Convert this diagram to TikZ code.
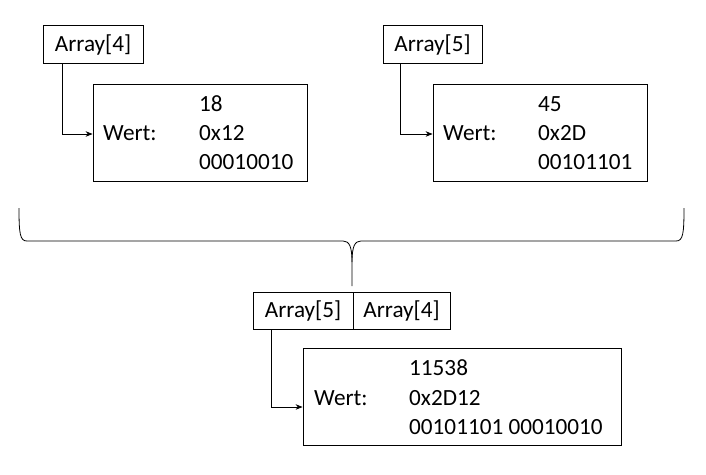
\documentclass[tikz,border=0pt]{standalone}
\usepackage{fontspec}
\setmainfont{Carlito}
\usetikzlibrary{arrows.meta,calc}
\begin{document}
\begin{tikzpicture}[x=1pt,y=-1pt,
  every node/.style={font=\fontsize{23.2}{28}\selectfont, inner sep=0pt},
  idxbox/.style={draw, line width=0.8pt, minimum height=38pt, text height=14.8pt, text depth=0pt},
  valbox/.style={draw, line width=0.8pt, minimum height=97pt},
  txt/.style={anchor=base west},
  ptr/.style={line width=0.8pt, -{Stealth[length=7pt,width=5.5pt]}},
  brace/.style={line width=0.8pt}
]
\useasboundingbox (0,0) rectangle (706,474);

% top left
\node[idxbox, minimum width=100pt] (a4) at (93,44.5) {Array[4]};
\node[valbox, minimum width=214pt] (v1) at (200,132.5) {};
\node[txt] (v1w) at (103,140.5) {Wert:};
\node[txt] (v1d) at (199,111.5) {18};
\node[txt] (v1h) at (199,140.5) {0x12};
\node[txt] (v1b) at (199,169.5) {00010010};
\draw[ptr] ($(a4.south west)+(20,0)$) |- ($(v1.west)+(0,1.5)$);

% top right
\node[idxbox, minimum width=99pt] (a5) at (432.5,44.5) {Array[5]};
\node[valbox, minimum width=214pt] (v2) at (540,132.5) {};
\node[txt] (v2w) at (443,140.5) {Wert:};
\node[txt] (v2d) at (538,111.5) {45};
\node[txt] (v2h) at (538,140.5) {0x2D};
\node[txt] (v2b) at (538,169.5) {00101101};
\draw[ptr] ($(a5.south west)+(18,0)$) |- ($(v2.west)+(0,1.5)$);

% brace
\coordinate (bl) at (19,208);
\coordinate (br) at (684,208);
\coordinate (bt) at (352,286);
\draw[brace] (bl) .. controls (19,234) and (20,241) .. (27,241) -- (343,241)
  .. controls (349,241) and (352,246) .. (352,262) -- (bt);
\draw[brace] (br) .. controls (684,234) and (683,241) .. (676,241) -- (361,241)
  .. controls (355,241) and (352,246) .. (352,262);

% bottom
\node[idxbox, minimum width=100pt, minimum height=37pt] (b5) at (303,310.5) {Array[5]};
\node[idxbox, minimum width=97pt, minimum height=37pt] (b4) at (401.5,310.5) {Array[4]};
\node[valbox, minimum width=318pt] (v3) at (462,396.5) {};
\node[txt] (v3w) at (314,405.5) {Wert:};
\node[txt] (v3d) at (409,375.5) {11538};
\node[txt] (v3h) at (409,405.5) {0x2D12};
\node[txt] (v3b) at (409,434.5) {00101101 00010010};
\draw[ptr] ($(b5.south west)+(19,0)$) |- ($(v3.west)+(0,10.5)$);
\end{tikzpicture}
\end{document}
